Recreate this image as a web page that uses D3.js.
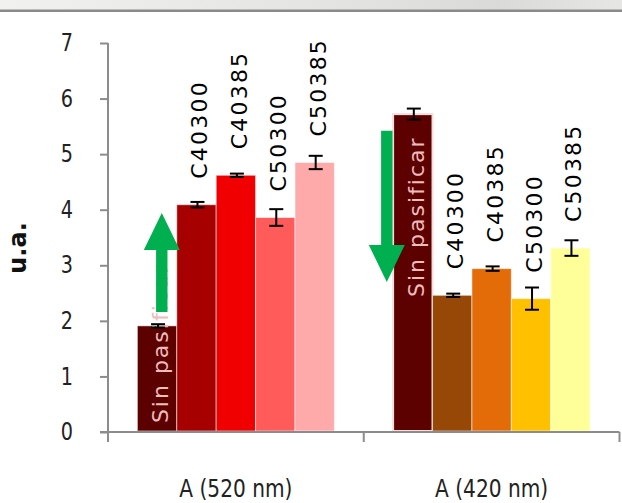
<!DOCTYPE html>
<html>
<head>
<meta charset="utf-8">
<script src="https://cdn.jsdelivr.net/npm/d3@7"></script>
<style>
  html, body { margin: 0; padding: 0; background: #fff; }
  svg { display: block; }
</style>
</head>
<body>
<svg id="chart" width="622" height="503"></svg>
<script>
// Absorbance readings (u.a.) per wavelength and treatment
const categories = ["A (520 nm)", "A (420 nm)"];
const series = ["Sin pasificar", "C40300", "C40385", "C50300", "C50385"];
const values520 = [1.91, 4.09, 4.62, 3.86, 4.85];
const errors520 = [0.03, 0.05, 0.03, 0.15, 0.12];
const values420 = [5.72, 2.46, 2.94, 2.40, 3.31];
const errors420 = [0.10, 0.03, 0.04, 0.20, 0.14];
const colors520 = ["#5c0000", "#a60000", "#f00000", "#ff5b5b", "#ffaaaa"];
const colors420 = ["#5c0000", "#974706", "#e36c09", "#ffc000", "#ffff99"];
const yTicks = [0, 1, 2, 3, 4, 5, 6, 7];
// where the in-bar "Sin pasificar" label starts, in axis units
const inBarLabelStart = [0.16, 2.43];
// trend arrows: direction from -> to, in axis units
const arrows = [
  { cat: "A (520 nm)", from: 2.16, to: 3.94, shift: 0.62 },
  { cat: "A (420 nm)", from: 5.42, to: 2.70, shift: -0.16 }
];

const valuesByCat = [values520, values420];
const errorsByCat = [errors520, errors420];
const colorsByCat = [colors520, colors420];

const rows = [];
categories.forEach((c, ci) => {
  series.forEach((s, si) => {
    rows.push({
      cat: c, ci, s, si,
      v: valuesByCat[ci][si],
      e: errorsByCat[ci][si],
      color: colorsByCat[ci][si]
    });
  });
});

const svg = d3.select("#chart");
const narrow = "'DejaVu Sans', sans-serif";
const labelFont = "'DejaVu Sans', Verdana, sans-serif";

// header strip
const defs = svg.append("defs");
const grad = defs.append("linearGradient").attr("id", "strip").attr("x1", 0).attr("x2", 1);
grad.append("stop").attr("offset", 0).attr("stop-color", "#f1f1f0");
grad.append("stop").attr("offset", 0.55).attr("stop-color", "#e3e3e1");
grad.append("stop").attr("offset", 0.8).attr("stop-color", "#dadad8");
grad.append("stop").attr("offset", 1).attr("stop-color", "#e6e6e4");
svg.append("rect").attr("x", 0).attr("y", 0).attr("width", 622).attr("height", 10)
  .attr("fill", "url(#strip)");
svg.append("line").attr("x1", 0).attr("x2", 622).attr("y1", 10.8).attr("y2", 10.8)
  .attr("stroke", "#8a8a8a").attr("stroke-width", 2.4);

// scales
const y = d3.scaleLinear().domain([0, 7]).range([432, 43]);
const x0 = d3.scaleBand().domain(categories).range([108, 619.5]).paddingInner(0).paddingOuter(0);
const x1 = d3.scaleBand().domain(series).range([0, x0.bandwidth()]).paddingInner(0).paddingOuter(0.745);
const bw = x1.bandwidth();
const barX = d => x0(d.cat) + x1(d.s);

// bars
svg.append("g").selectAll("rect").data(rows).join("rect")
  .attr("x", barX)
  .attr("width", bw)
  .attr("y", d => y(d.v))
  .attr("height", d => y(0) - y(d.v) - 1)
  .attr("fill", d => d.color)
  .attr("stroke", d => (d.ci === 1 && d.si === 0) ? "#f3dede" : "rgba(255,255,255,0.55)")
  .attr("stroke-width", d => (d.ci === 1 && d.si === 0) ? 2 : 1);

// in-bar "Sin pasificar" labels
svg.append("g").selectAll("text").data(rows.filter(d => d.si === 0)).join("text")
  .attr("transform", d => `translate(${barX(d) + bw / 2 + 3},${y(inBarLabelStart[d.ci])}) rotate(-90)`)
  .attr("dy", "0.36em")
  .attr("font-family", labelFont)
  .attr("font-size", 22)
  .attr("letter-spacing", 2)
  .attr("fill", "#eebcbc")
  .text(d => d.s);

// error bars
const eb = svg.append("g").attr("stroke", "#000").attr("stroke-width", 2);
rows.forEach(d => {
  const cx = barX(d) + bw / 2 + 1;
  const cap = 7;
  eb.append("line").attr("x1", cx).attr("x2", cx).attr("y1", y(d.v - d.e)).attr("y2", y(d.v + d.e));
  eb.append("line").attr("x1", cx - cap).attr("x2", cx + cap).attr("y1", y(d.v - d.e)).attr("y2", y(d.v - d.e));
  eb.append("line").attr("x1", cx - cap).attr("x2", cx + cap).attr("y1", y(d.v + d.e)).attr("y2", y(d.v + d.e));
});

// treatment labels above bars
svg.append("g").selectAll("text").data(rows.filter(d => d.si > 0)).join("text")
  .attr("transform", d => `translate(${barX(d) + bw / 2 + 3},${y(d.v) - 26}) rotate(-90)`)
  .attr("dy", "0.36em")
  .attr("font-family", labelFont)
  .attr("font-size", 22)
  .attr("letter-spacing", 2.2)
  .attr("fill", "#000")
  .text(d => d.s);

// green trend arrows
const arrowG = svg.append("g").attr("fill", "#00b050");
arrows.forEach(a => {
  const firstBar = x0(a.cat) + x1(series[0]);
  const cx = firstBar + bw * a.shift;
  const dir = a.to > a.from ? -1 : 1; // screen direction of travel
  const tip = y(a.to);
  const headLen = 37, headHalf = 18, shaftHalf = 5.7;
  const base = tip - dir * headLen;
  const tail = y(a.from);
  const pts = [
    [cx - shaftHalf, tail], [cx - shaftHalf, base], [cx - headHalf, base],
    [cx, tip], [cx + headHalf, base], [cx + shaftHalf, base], [cx + shaftHalf, tail]
  ];
  arrowG.append("path").attr("d", d3.line()(pts) + "Z");
});

// y axis (narrow tick digits)
const yAxis = d3.axisLeft(y).tickValues(yTicks).tickSize(8).tickPadding(27).tickFormat(d3.format("d"));
const yg = svg.append("g").attr("transform", "translate(108,0)").call(yAxis);
yg.select(".domain").remove();
yg.selectAll(".tick line").attr("stroke", "#8c8c8c").attr("stroke-width", 2);
yg.selectAll(".tick text")
  .attr("x", 0)
  .attr("transform", "translate(-35,0) scale(0.8,1)")
  .attr("font-family", narrow).attr("font-size", 24).attr("fill", "#222");
svg.append("line").attr("x1", 108).attr("x2", 108).attr("y1", y(7)).attr("y2", y(0) + 10)
  .attr("stroke", "#8c8c8c").attr("stroke-width", 2);

// x axis with category boundary ticks
svg.append("line").attr("x1", 100).attr("x2", x0.range()[1]).attr("y1", y(0)).attr("y2", y(0))
  .attr("stroke", "#8c8c8c").attr("stroke-width", 2.2);
const bounds = categories.map(c => x0(c)).concat([x0(categories[categories.length - 1]) + x0.bandwidth()]);
svg.append("g").selectAll("line").data(bounds).join("line")
  .attr("x1", d => d).attr("x2", d => d)
  .attr("y1", y(0)).attr("y2", y(0) + 10)
  .attr("stroke", "#8c8c8c").attr("stroke-width", 2);
svg.append("g").selectAll("text").data(categories).join("text")
  .attr("transform", d => `translate(${x0(d) + x0.bandwidth() / 2},497) scale(0.84,1)`)
  .attr("text-anchor", "middle")
  .attr("font-family", narrow)
  .attr("font-size", 24)
  .attr("fill", "#222")
  .text(d => d);

// y axis title
svg.append("text")
  .attr("transform", `translate(18,${248}) rotate(-90)`)
  .attr("text-anchor", "middle")
  .attr("dy", "0.35em")
  .attr("font-family", labelFont)
  .attr("font-weight", "bold")
  .attr("font-size", 24)
  .attr("fill", "#111")
  .text("u.a.");
</script>
</body>
</html>
